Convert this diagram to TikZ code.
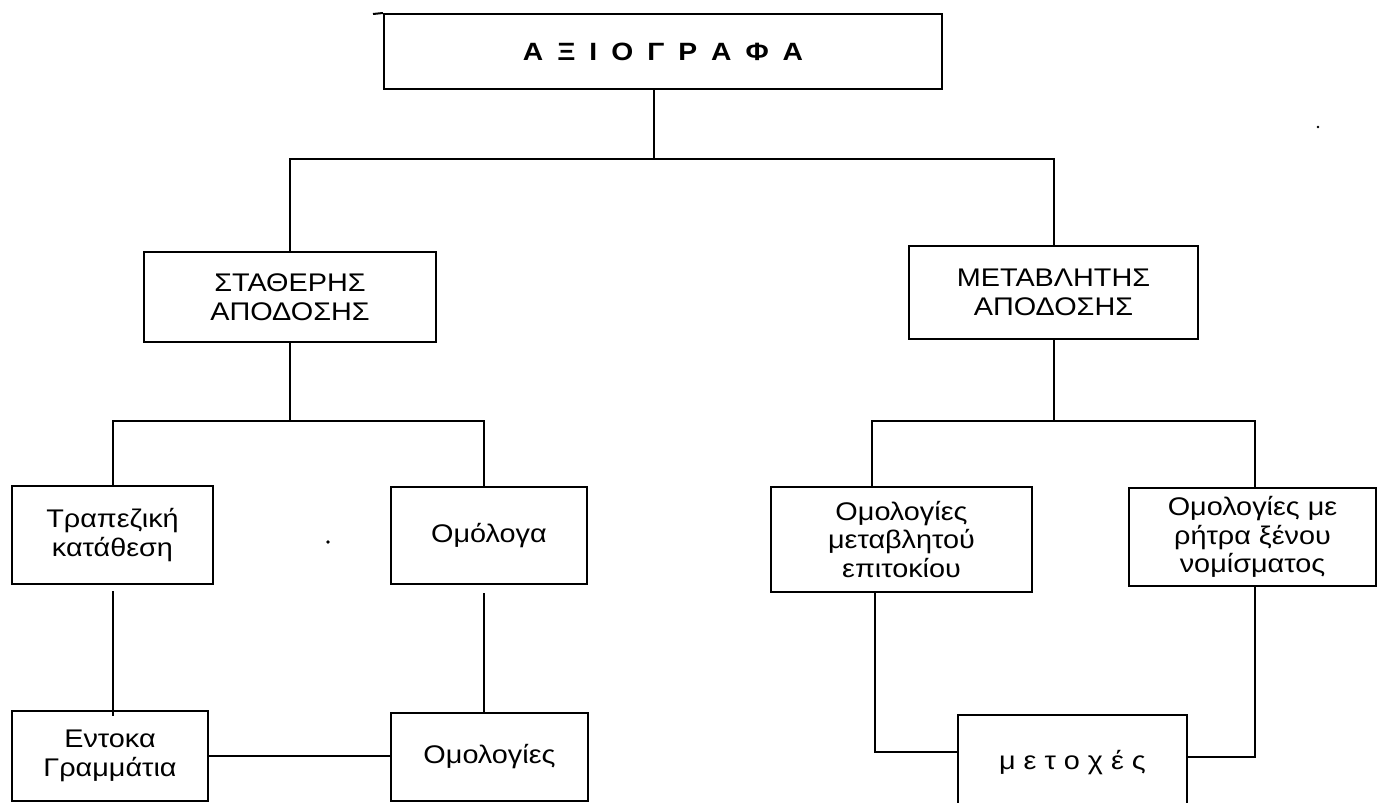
\documentclass[tikz,border=0pt]{standalone}
\usepackage{fontspec}
\setmainfont{Liberation Sans}[FakeStretch=1.13]
\begin{document}
\begin{tikzpicture}[x=1pt,y=-1pt,
  box/.style={draw,line width=2pt,inner sep=0pt,align=center,
    font=\fontsize{25.5}{28.5}\selectfont},
  conn/.style={line width=2pt}]
\useasboundingbox (0,0) rectangle (1379,803);
\clip (0,0) rectangle (1379,803);
% nodes
\node[box,minimum width=558pt,minimum height=75pt,font=\fontsize{25}{28}\selectfont\bfseries] (top) at (663,51.5)
  {\raisebox{-4pt}{Α\hspace{14pt}Ξ\hspace{14pt}Ι\hspace{14pt}Ο\hspace{14pt}Γ\hspace{14pt}Ρ\hspace{14pt}Α\hspace{14pt}Φ\hspace{14pt}Α}};
\node[box,minimum width=292pt,minimum height=90pt] (stath) at (290,297) {ΣΤΑΘΕΡΗΣ\\ΑΠΟΔΟΣΗΣ};
\node[box,minimum width=289pt,minimum height=93pt] (metab) at (1053.5,292.5) {ΜΕΤΑΒΛΗΤΗΣ\\ΑΠΟΔΟΣΗΣ};
\node[box,minimum width=201pt,minimum height=98pt] (trap) at (112.5,535) {Τραπεζική\\κατάθεση};
\node[box,minimum width=196pt,minimum height=97pt] (omologa) at (489,535.5) {Ομόλογα};
\node[box,minimum width=196pt,minimum height=90pt] (entoka) at (110,756) {Εντοκα\\Γραμμάτια};
\node[box,minimum width=197pt,minimum height=88pt] (omologies) at (489.5,757) {Ομολογίες};
\node[box,minimum width=261pt,minimum height=105pt] (metavl) at (901.5,539.5) {Ομολογίες\\μεταβλητού\\επιτοκίου};
\node[box,minimum width=247pt,minimum height=98pt] (xenou) at (1252.5,537) {Ομολογίες με\\ρήτρα ξένου\\νομίσματος};
\node[box,minimum width=229pt,minimum height=96pt] (metoxes) at (1072.5,763)
  {μ\hspace{8pt}ε\hspace{8pt}τ\hspace{8pt}ο\hspace{8pt}χ\hspace{8pt}έ\hspace{8pt}ς};
% top line overhang
\coordinate (ovl) at (373,14);
\draw[conn] (ovl) -- (top.north west);
% connectors
\draw[conn] ([xshift=-9pt]top.south) -- ++(0,69) coordinate (j1);
\draw[conn] (stath.north) |- (j1) -| (metab.north);
\draw[conn] (stath.south) -- ++(0,78) coordinate (j2);
\draw[conn] (trap.north) |- (j2) -| ([xshift=-5pt]omologa.north);
\draw[conn] (metab.south) -- ++(0,81) coordinate (j3);
\draw[conn] ([xshift=-30pt]metavl.north) |- (j3) -| ([xshift=2pt]xenou.north);
\draw[conn] ([yshift=-6pt]trap.south) -- ([yshift=-6pt]trap.south |- entoka.north);
\draw[conn] ([xshift=-5pt,yshift=-8pt]omologa.south) -- ([xshift=-5pt]omologa.south |- omologies.north);
\draw[conn] (entoka.east) -- (entoka.east -| omologies.west);
\draw[conn] ([xshift=-27pt]metavl.south) |- ([yshift=11pt]metoxes.west);
\draw[conn] ([xshift=2pt]xenou.south) |- ([yshift=6pt]metoxes.east);
% stray marks of the scan
\fill (328,542) circle (1.8pt);
\fill (1318,127) circle (1.3pt);
\end{tikzpicture}
\end{document}
